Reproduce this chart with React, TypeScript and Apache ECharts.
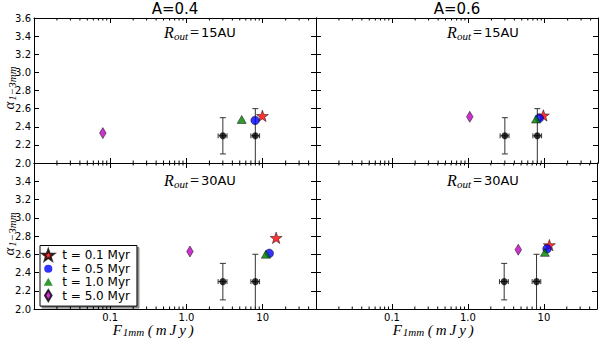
import React, { useEffect, useRef } from "react";
import * as echarts from "echarts";

// ---------- data ----------
const legendNames = ["t = 0.1 Myr", "t = 0.5 Myr", "t = 1.0 Myr", "t = 5.0 Myr"];
const panelTitles = ["A=0.4", "A=0.6"];
const panelRadii = ["15AU", "15AU", "30AU", "30AU"];
const xTickLabels = ["0.1", "1.0", "10"];
// panels: 0 = A=0.4/15AU, 1 = A=0.6/15AU, 2 = A=0.4/30AU, 3 = A=0.6/30AU
const starPts = [[9.9, 2.52], [9.6, 2.525], [15, 2.78], [11.8, 2.7]];
const circlePts = [[7.95, 2.47], [8.5, 2.495], [12.2, 2.61], [11.0, 2.66]];
const trianglePts = [[5.3, 2.48], [7.7, 2.485], [11.0, 2.6], [10.3, 2.62]];
const diamondPts = [[0.08, 2.33], [1.04, 2.51], [1.11, 2.63], [4.6, 2.65]];
// observed points with error bars
const obsX = [3, 8];
const obsY = [2.3, 2.3];
const obsXLo = [2.6, 7.0];
const obsXHi = [3.4, 9.1];
const obsYLo = [2.1, 1.7];
const obsYHi = [2.5, 2.6];
// log-axis minor tick positions
const minorMult = [2, 3, 4, 5, 6, 7, 8, 9];
const decades = [0.01, 0.1, 1, 10];

const X_MIN = 0.01;
const X_MAX = 50;
const Y_MIN = 2.0;
const Y_MAX = 3.6;

const STAR =
  "path://M0,-10 L2.35,-3.24 L9.51,-3.09 L3.8,1.24 L5.88,8.09 L0,4 L-5.88,8.09 L-3.8,1.24 L-9.51,-3.09 L-2.35,-3.24 Z";
const TRI = "path://M0,-1 L1,0.75 L-1,0.75 Z";
const DIA = "path://M0,-1 L0.6,0 L0,1 L-0.6,0 Z";
// legend icons padded with an area-less diagonal so they draw at the reference sizes
const CIRCLE_ICON =
  "path://M-1.35,-1.35 L1.35,1.35 M-1,0 A1,1 0 1,1 1,0 A1,1 0 1,1 -1,0 Z";
const TRI_ICON = "path://M-1,-1.3 L1,1.1 M0,-1 L1,0.75 L-1,0.75 Z";

const grids = [
  { left: 34, top: 18, width: 282, height: 145 },
  { left: 316, top: 18, width: 282, height: 145 },
  { left: 34, top: 163, width: 282, height: 146 },
  { left: 316, top: 163, width: 282, height: 146 },
];

const FONT = "DejaVu Sans";
const MATH = "Liberation Serif";

function App() {
  const ref = useRef<HTMLDivElement>(null);
  useEffect(() => {
    if (!ref.current) return;
    const chart = echarts.init(ref.current, null, { renderer: "svg" });

    const minorTicks: number[] = [];
    decades.forEach((d) =>
      minorMult.forEach((m) => {
        const v = d * m;
        if (v < X_MAX) minorTicks.push(v);
      })
    );

    const axisLine = { show: true, onZero: false, lineStyle: { color: "#000", width: 1 } };
    const tick = { show: true, inside: true, length: 5, lineStyle: { color: "#000", width: 1 } };

    const xAxes: any[] = [];
    const yAxes: any[] = [];
    grids.forEach((_, p) => {
      const bottomRow = p >= 2;
      xAxes.push({
        type: "log",
        logBase: 10,
        gridIndex: p,
        position: "bottom",
        min: X_MIN,
        max: X_MAX,
        axisLine,
        axisTick: tick,
        splitLine: { show: false },
        minorTick: { show: false },
        axisLabel: {
          show: bottomRow,
          margin: 3,
          color: "#000",
          fontFamily: FONT,
          fontSize: 10,
          formatter: (v: number) => {
            const k = Math.log10(v);
            const idx = Math.round(k) + 1;
            if (Math.abs(k - Math.round(k)) < 1e-6 && idx >= 0 && idx < xTickLabels.length)
              return xTickLabels[idx];
            return "";
          },
        },
      });
      xAxes.push({
        type: "log",
        logBase: 10,
        gridIndex: p,
        position: "top",
        min: X_MIN,
        max: X_MAX,
        axisLine,
        axisTick: tick,
        splitLine: { show: false },
        axisLabel: { show: false },
      });
      yAxes.push({
        type: "value",
        gridIndex: p,
        position: "left",
        min: Y_MIN,
        max: Y_MAX,
        interval: 0.2,
        axisLine,
        axisTick: tick,
        splitLine: { show: false },
        axisLabel: {
          show: p % 2 === 0,
          margin: 3,
          color: "#000",
          fontFamily: FONT,
          fontSize: 10,
          formatter: (v: number) => (bottomRow && v > Y_MAX - 0.05 ? "" : v.toFixed(1)),
        },
      });
      yAxes.push({
        type: "value",
        gridIndex: p,
        position: "right",
        min: Y_MIN,
        max: Y_MAX,
        interval: 0.2,
        axisLine,
        axisTick: tick,
        splitLine: { show: false },
        axisLabel: { show: false },
      });
    });

    const border = { borderColor: "#000", borderWidth: 0.6 };
    const series: any[] = [];
    grids.forEach((_, p) => {
      const ax = { xAxisIndex: 2 * p, yAxisIndex: 2 * p };
      // minor ticks
      series.push({
        type: "custom",
        ...ax,
        silent: true,
        z: 1,
        data: minorTicks.map((v) => [v, 2.5]),
        renderItem: (params: any, api: any) => {
          const cs = params.coordSys;
          const x = api.coord([api.value(0), 2.5])[0];
          const b = cs.y + cs.height;
          const st = { stroke: "#000", lineWidth: 1 };
          return {
            type: "group",
            children: [
              { type: "line", shape: { x1: x, y1: b, x2: x, y2: b - 2.5 }, style: st },
              { type: "line", shape: { x1: x, y1: cs.y, x2: x, y2: cs.y + 2.5 }, style: st },
            ],
          };
        },
      });
      // error bars
      series.push({
        type: "custom",
        ...ax,
        silent: true,
        z: 2,
        data: obsX.map((x, i) => [x, obsY[i], obsXLo[i], obsXHi[i], obsYLo[i], obsYHi[i]]),
        renderItem: (params: any, api: any) => {
          const cs = params.coordSys;
          const x = api.value(0);
          const y = api.value(1);
          const c = api.coord([x, y]);
          const xl = api.coord([api.value(2), y])[0];
          const xh = api.coord([api.value(3), y])[0];
          const yl = api.coord([x, api.value(4)])[1];
          const yh = api.coord([x, api.value(5)])[1];
          const bottom = cs.y + cs.height;
          const st = { stroke: "#333", lineWidth: 1 };
          const ch: any[] = [
            { type: "line", shape: { x1: c[0], y1: yh, x2: c[0], y2: Math.min(yl, bottom) }, style: st },
            { type: "line", shape: { x1: c[0] - 3, y1: yh, x2: c[0] + 3, y2: yh }, style: st },
            { type: "line", shape: { x1: xl, y1: c[1], x2: xh, y2: c[1] }, style: st },
            { type: "line", shape: { x1: xl, y1: c[1] - 2.5, x2: xl, y2: c[1] + 2.5 }, style: st },
            { type: "line", shape: { x1: xh, y1: c[1] - 2.5, x2: xh, y2: c[1] + 2.5 }, style: st },
          ];
          if (yl <= bottom)
            ch.push({ type: "line", shape: { x1: c[0] - 3, y1: yl, x2: c[0] + 3, y2: yl }, style: st });
          return { type: "group", children: ch };
        },
      });
      series.push({
        type: "scatter",
        ...ax,
        z: 3,
        symbol: "circle",
        symbolSize: 7,
        itemStyle: { color: "#000" },
        data: obsX.map((x, i) => [x, obsY[i]]),
      });
      series.push({
        name: legendNames[0],
        type: "scatter",
        ...ax,
        z: 4,
        symbol: STAR,
        symbolKeepAspect: true,
        symbolSize: 12,
        itemStyle: { color: "#ff0000", ...border },
        data: [starPts[p]],
      });
      series.push({
        name: legendNames[1],
        type: "scatter",
        ...ax,
        z: 5,
        symbol: "circle",
        symbolSize: 8.5,
        itemStyle: { color: "#0000ff", ...border },
        data: [circlePts[p]],
      });
      series.push({
        name: legendNames[2],
        type: "scatter",
        ...ax,
        z: 6,
        symbol: TRI,
        symbolKeepAspect: true,
        symbolSize: 9,
        itemStyle: { color: "#008000", ...border },
        data: [trianglePts[p]],
      });
      series.push({
        name: legendNames[3],
        type: "scatter",
        ...ax,
        z: 7,
        symbol: DIA,
        symbolKeepAspect: true,
        symbolSize: 11,
        itemStyle: { color: "#bf00bf", ...border },
        data: [diamondPts[p]],
      });
    });

    const rOutText = (x: number, y: number, r: string) => ({
      type: "text",
      x,
      y,
      z: 10,
      style: {
        text: `{r|R}{s|out}{e|=}{n|${r}}`,
        align: "center",
        verticalAlign: "middle",
        rich: {
          r: { fontFamily: MATH, fontStyle: "italic", fontSize: 16, fill: "#000" },
          s: { fontFamily: MATH, fontStyle: "italic", fontSize: 11, padding: [7, 0, 0, 0], fill: "#000" },
          e: { fontFamily: MATH, fontSize: 16, padding: [0, 2, 0, 2], fill: "#000" },
          n: { fontFamily: FONT, fontSize: 13, fill: "#000" },
        },
      },
    });
    const mathP = { fontFamily: MATH, fontStyle: "italic", fontSize: 15, padding: [0, 1.5, 0, 1.5], fill: "#000" };
    const xLabel = (x: number) => ({
      type: "text",
      x,
      y: 330,
      style: {
        text: "{f|F}{s|1mm}{p|(}{p|m}{p|J}{p|y}{p|)}",
        align: "center",
        verticalAlign: "middle",
        rich: {
          f: { fontFamily: MATH, fontStyle: "italic", fontSize: 15, fill: "#000" },
          s: { fontFamily: MATH, fontStyle: "italic", fontSize: 11, padding: [4, 2, 0, 1], fill: "#000" },
          p: mathP,
        },
      },
    });
    const yLabel = (y: number) => ({
      type: "text",
      x: 9,
      y,
      rotation: Math.PI / 2,
      style: {
        text: "{a|α}{s|1−3mm}",
        align: "center",
        verticalAlign: "middle",
        rich: {
          a: { fontFamily: MATH, fontStyle: "italic", fontSize: 15, fill: "#000" },
          s: { fontFamily: MATH, fontStyle: "italic", fontSize: 11, padding: [5, 0, 0, 1], fill: "#000" },
        },
      },
    });

    const noBorder = { borderWidth: 0 };
    const option: any = {
      animation: false,
      backgroundColor: "#fff",
      grid: grids.map((g) => ({ ...g, containLabel: false })),
      xAxis: xAxes,
      yAxis: yAxes,
      series,
      legend: {
        left: 40,
        top: 245.5,
        orient: "vertical",
        selectedMode: false,
        backgroundColor: "#fff",
        borderColor: "#000",
        borderWidth: 1,
        borderRadius: 0,
        padding: [3, 7, 4, 1.5],
        itemWidth: 14,
        itemHeight: 11,
        itemGap: 1.2,
        symbolKeepAspect: true,
        shadowColor: "rgba(0,0,0,0.45)",
        shadowBlur: 1,
        shadowOffsetX: 2,
        shadowOffsetY: 2,
        textStyle: { fontFamily: FONT, fontSize: 12, color: "#000", padding: [0, 0, 0, 2] },
        data: [
          { name: legendNames[0], icon: STAR },
          { name: legendNames[1], icon: CIRCLE_ICON, itemStyle: noBorder },
          { name: legendNames[2], icon: TRI_ICON, itemStyle: noBorder },
          { name: legendNames[3], icon: DIA },
        ],
      },
      graphic: [
        {
          type: "text",
          x: 175,
          y: 9,
          style: { text: panelTitles[0], fontFamily: FONT, fontSize: 15, fill: "#000", align: "center", verticalAlign: "middle" },
        },
        {
          type: "text",
          x: 457,
          y: 9,
          style: { text: panelTitles[1], fontFamily: FONT, fontSize: 15, fill: "#000", align: "center", verticalAlign: "middle" },
        },
        rOutText(200, 32, panelRadii[0]),
        rOutText(483, 32, panelRadii[1]),
        rOutText(200, 180, panelRadii[2]),
        rOutText(483, 180, panelRadii[3]),
        xLabel(154),
        xLabel(434),
        yLabel(88),
        yLabel(234),
      ],
    };
    chart.setOption(option);
    return () => chart.dispose();
  }, []);
  return (
    <div
      ref={ref}
      style={{ position: "absolute", left: 0, top: 0, width: 600, height: 338 }}
    />
  );
}

export default App;
